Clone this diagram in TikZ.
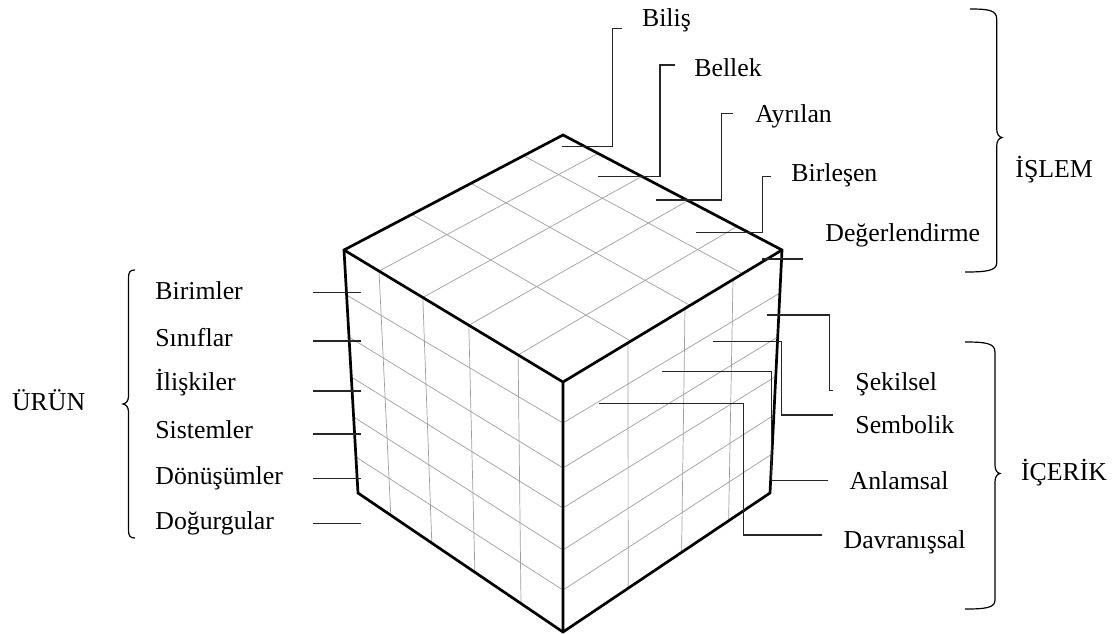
\documentclass[tikz,border=0pt]{standalone}
\usepackage{fontspec}
\setmainfont{Liberation Serif}
\begin{document}
\begin{tikzpicture}[x=0.5pt,y=-0.5pt,
  every node/.style={font=\fontsize{12.9}{15}\selectfont, inner sep=0pt},
  lbl/.style={anchor=base west},
  gridline/.style={draw=black!38, line width=0.35pt},
  edge/.style={draw=black, line width=1.35pt},
  leader/.style={draw=black!85, line width=0.65pt},
  bracestyle/.style={draw=black, line width=0.6pt}]
\useasboundingbox (0,0) rectangle (1120,633);
% cube vertices
\coordinate (T) at (563,135);
\coordinate (L) at (344,250);
\coordinate (R) at (782,250);
\coordinate (F) at (563,382);
\coordinate (LB) at (358,493);
\coordinate (FB) at (563,632);
\coordinate (RB) at (770,493);
% top face grid
\draw[gridline] (598,153.4)--(379,271.1) (641.8,176.4)--(422.8,297.5)
  (687.8,200.6)--(468.8,325.2) (737.1,226.4)--(518.1,354.9);
\draw[gridline] (523.6,155.7)--(742.6,273.8) (471,183.3)--(690,305.4)
  (411.9,214.4)--(630.9,341.1);
% left face grid
\draw[gridline] (379,271.1)--(390.8,515.2) (422.8,297.5)--(431.8,543)
  (468.8,325.2)--(474.9,572.2) (518.1,354.9)--(521,603.5);
\draw[gridline] (346.6,295)--(563,423) (349,337)--(563,468)
  (351.3,377)--(563,508) (353.6,417)--(563,550) (355.9,457)--(563,590);
% right face grid
\draw[gridline] (628,342.8)--(628.2,588.2) (685,308.5)--(681.6,552.4)
  (733,279.6)--(728.6,520.8);
\draw[gridline] (563,423)--(779.9,293) (563,468)--(777.7,337)
  (563,508)--(775.8,376.4) (563,550)--(773.8,415.2) (563,590)--(771.9,454.1);
% cube edges
\draw[edge] (T)--(L)--(LB)--(FB)--(RB)--(R)--cycle;
\draw[edge] (L)--(F)--(R) (F)--(FB);

% top labels (ISLEM)
\node[lbl] (bilis) at (641.7,26.7) {Biliş};
\node[lbl] (bellek) at (694,76.7) {Bellek};
\node[lbl] (ayrilan) at (755,122.7) {Ayrılan};
\node[lbl] (birlesen) at (791,181.7) {Birleşen};
\node[lbl] (degerl) at (825,241.7) {Değerlendirme};
\coordinate (s1) at (562,146.7); \coordinate (e1) at (621.7,28.3);
\coordinate (s2) at (598,176.5); \coordinate (e2) at (675,65);
\coordinate (s3) at (656,200); \coordinate (e3) at (733,113.3);
\coordinate (s4) at (696,232.5); \coordinate (e4) at (771,176.7);
\coordinate (s5) at (762,259); \coordinate (e5) at (803,259);
\draw[leader] (s1) -| ([xshift=-4.7pt]e1) -- (e1);
\draw[leader] (s2) -| ([xshift=-7.5pt]e2) -- (e2);
\draw[leader] (s3) -| ([xshift=-5.6pt]e3) -- (e3);
\draw[leader] (s4) -| ([xshift=-4.2pt]e4) -- (e4);
\draw[leader] (s5) -- (e5);

% right labels (ICERIK)
\node[lbl] (sekil) at (855,390) {Şekilsel};
\node[lbl] (sembol) at (855,433.3) {Sembolik};
\node[lbl] (anlam) at (849.3,489.3) {Anlamsal};
\node[lbl] (davran) at (843.3,548.3) {Davranışsal};
\coordinate (r1s) at (766.7,315); \coordinate (r1e) at (833.3,390.7);
\coordinate (r2s) at (713.3,341.7); \coordinate (r2e) at (833.3,415);
\coordinate (r3s) at (661.7,371.7); \coordinate (r3e) at (827.7,480.7);
\coordinate (r4s) at (599.3,403.3); \coordinate (r4e) at (821.7,535);
\draw[leader] (r1s) -| ([xshift=-2pt]r1e) -- (r1e);
\draw[leader] (r2s) -| ([xshift=-25.8pt]r2e) -- (r2e);
\draw[leader] (r3s) -| ([xshift=-28pt]r3e) -- (r3e);
\draw[leader] (r4s) -| ([xshift=-39.2pt]r4e) -- (r4e);

% left labels (URUN)
\node[lbl] (birim) at (155,299.3) {Birimler};
\node[lbl] (sinif) at (155,346.7) {Sınıflar};
\node[lbl] (iliski) at (155,390.7) {İlişkiler};
\node[lbl] (sistem) at (155,438.3) {Sistemler};
\node[lbl] (donus) at (155,484) {Dönüşümler};
\node[lbl] (dogur) at (155,529.3) {Doğurgular};
\foreach \y/\n in {292.3/1,341/2,391/3,434/4,478.3/5,523.3/6}{
  \coordinate (la\n) at (313.3,\y);
  \coordinate (lb\n) at (361,\y);
  \draw[leader] (la\n) -- (lb\n);
}

% braces
\draw[bracestyle] (135,270) .. controls (130,270) and (128.5,272) .. (128.5,278)
  -- (128.5,396) .. controls (128.5,401) and (126,403.5) .. (123,404)
  .. controls (126,404.5) and (128.5,407) .. (128.5,412)
  -- (128.5,530) .. controls (128.5,536) and (130,538) .. (135,538);
\node[lbl] (urun) at (11.7,410) {ÜRÜN};

\draw[bracestyle] (965,342) .. controls (985,342) and (995,343) .. (995,352)
  -- (995,465) .. controls (995,470) and (997,473) .. (1000,473.5)
  .. controls (997,474) and (995,477) .. (995,482)
  -- (995,600) .. controls (995,608) and (985,609) .. (965,609);
\node[lbl] (icerik) at (1020.7,480) {İÇERİK};

\draw[bracestyle] (970,9) .. controls (988,9) and (996.7,10) .. (996.7,19)
  -- (996.7,129) .. controls (996.7,134) and (999,137) .. (1002,137.5)
  .. controls (999,138) and (996.7,141) .. (996.7,146)
  -- (996.7,263) .. controls (996.7,271) and (985,272) .. (965,272);
\node[lbl] (islem) at (1015,177) {İŞLEM};
\end{tikzpicture}
\end{document}
